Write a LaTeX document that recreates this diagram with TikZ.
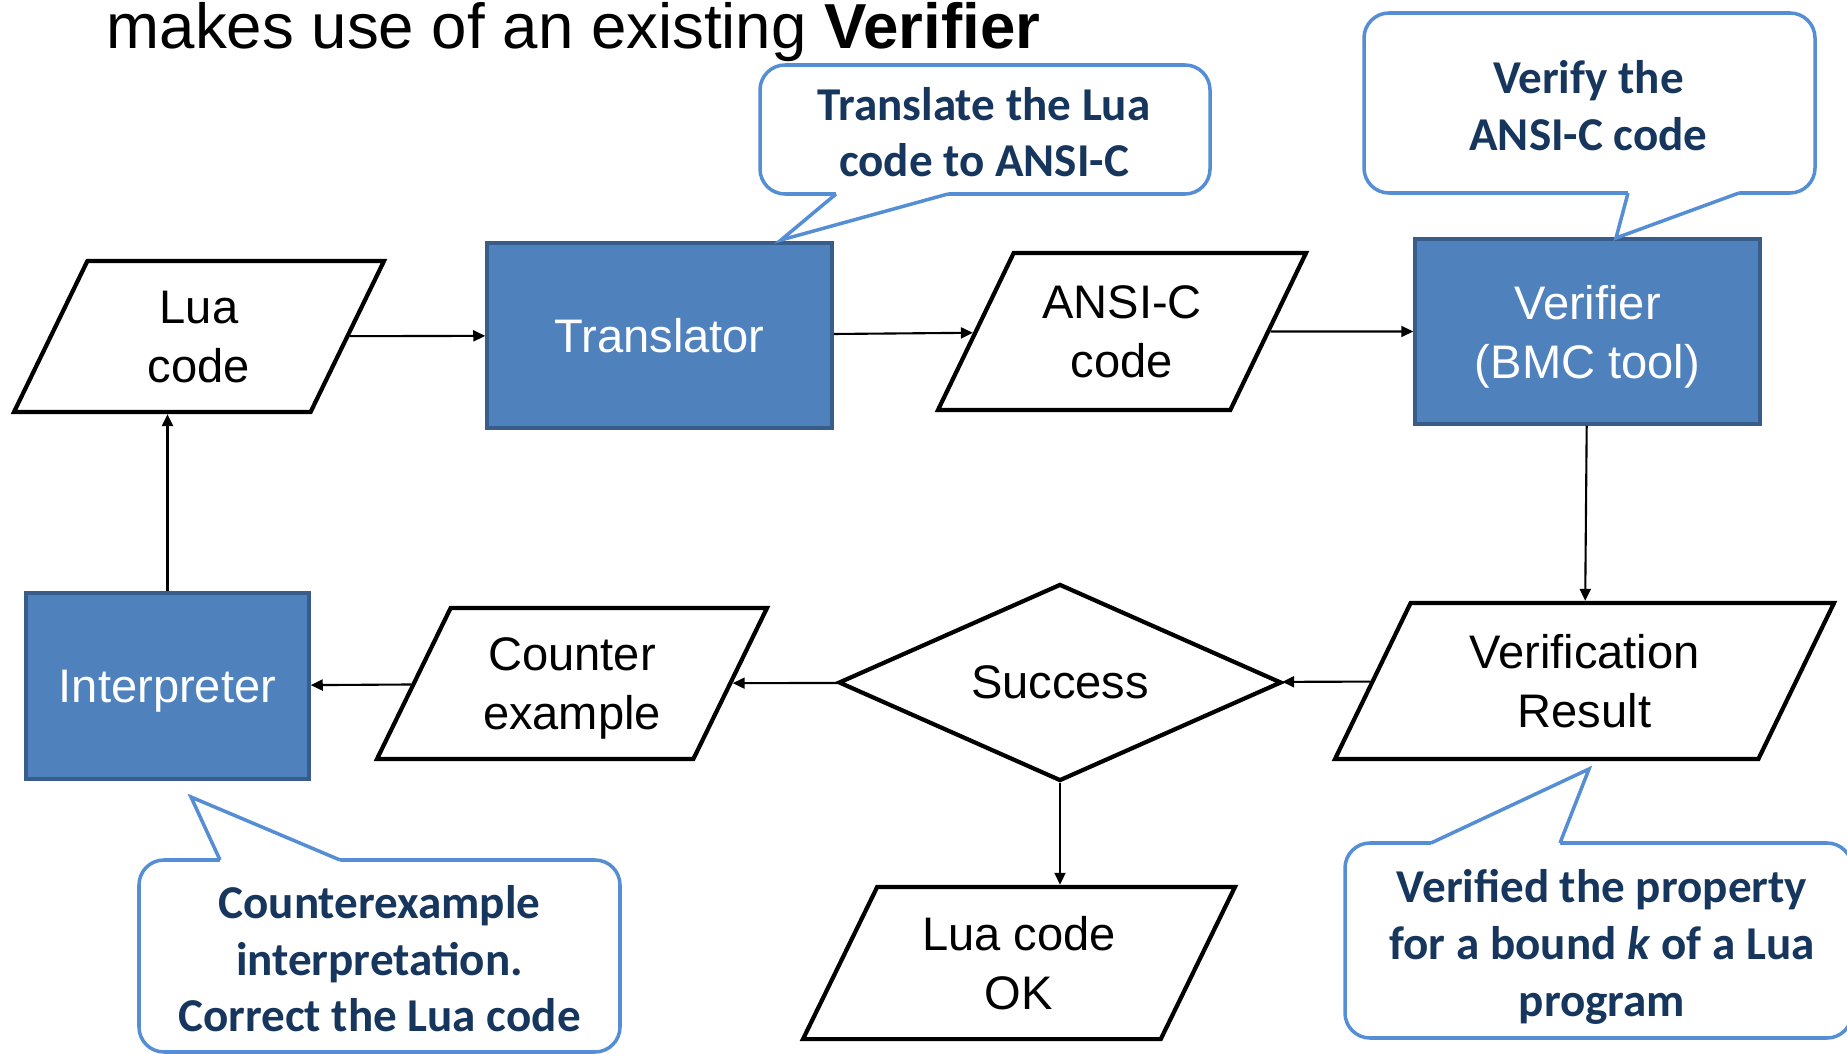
\documentclass[tikz,border=0pt]{standalone}
\usepackage{fontspec}
\setmainfont{Liberation Sans}
\newfontfamily\notefont{Carlito}
\usepackage{xcolor}
\usetikzlibrary{shapes.geometric, arrows.meta}

\definecolor{boxblue}{HTML}{4F81BD}
\definecolor{boxedge}{HTML}{385D8A}
\definecolor{bubbleedge}{HTML}{558ED5}
\definecolor{notetext}{HTML}{17365D}

\begin{document}
\begin{tikzpicture}[
        flow/.style={trapezium, trapezium left angle=64, trapezium right angle=116,
            trapezium stretches body, draw=black, line width=1.2pt, fill=white,
            inner xsep=0pt, inner ysep=8.4pt, text depth=0pt, align=center,
            font=\fontsize{13.4}{16.8}\selectfont},
        tool/.style={rectangle, draw=boxedge, line width=1pt, fill=boxblue, text=white,
            inner sep=0pt, text depth=0pt, align=center, font=\fontsize{13.4}{16.8}\selectfont},
        decision/.style={diamond, shape aspect=2.2, draw=black, line width=1.2pt, inner sep=0pt,
            font=\fontsize{13.4}{16.8}\selectfont},
        link/.style={line width=0.6pt, -{Triangle[length=1.2mm, width=1.1mm]}},
        bubble/.style={draw=bubbleedge, line width=1pt, fill=white},
        note/.style={text=notetext, align=center, inner sep=0pt,
            font=\notefont\bfseries\fontsize{13.4}{16.1}\selectfont}
    ]
        \useasboundingbox (0, 0) rectangle (18.47, 10.53);

        \node[anchor=base west, inner sep=0pt, font=\fontsize{18.1}{21}\selectfont] (title)
            at (1.06, 10.04) {makes use of an existing \textbf{Verifier}};

        \node[flow, minimum width=3.70cm, minimum height=1.51cm] (lua) at (1.99, 7.165) {Lua\\code};
        \node[tool, minimum width=3.45cm, minimum height=1.85cm] (trans) at (6.595, 7.175) {Translator};
        \node[flow, minimum width=3.68cm, minimum height=1.57cm, inner ysep=9pt] (ansi) at (11.22, 7.215) {ANSI-C\\code};
        \node[tool, minimum width=3.45cm, minimum height=1.85cm] (verif) at (15.875, 7.215) {Verifier\\(BMC tool)};
        \node[flow, minimum width=4.99cm, minimum height=1.56cm, inner ysep=8.8pt] (result) at (15.845, 3.72) {Verification\\Result};
        \node[decision, minimum width=4.43cm, minimum height=1.97cm] (success) at (10.60, 3.705) {Success};
        \node[flow, minimum width=3.90cm, minimum height=1.51cm] (counter) at (5.72, 3.695) {Counter\\example};
        \node[tool, minimum width=2.83cm, minimum height=1.86cm] (interp) at (1.675, 3.67) {Interpreter};
        \node[flow, minimum width=4.32cm, minimum height=1.52cm] (luaok) at (10.19, 0.90) {Lua code\\OK};

        \draw[link] (lua) -- (trans);
        \draw[link] (trans) -- (ansi);
        \draw[link] (ansi) -- (verif);
        \draw[link] (verif) -- (result);
        \draw[link] (result) -- (success);
        \draw[link] (success) -- (counter);
        \draw[link] (counter) -- (interp);
        \draw[link] (success.south) -- (success.south |- luaok.north);
        \draw[link] (interp.north) -- (interp.north |- lua.south);

        \draw[bubble, rounded corners=0.25cm] (7.60, 8.59) rectangle (12.10, 9.88);
        \fill[white] (8.36, 8.62) -- (8.36, 8.59) -- (7.81, 8.13) -- (9.48, 8.59) -- (9.48, 8.62) -- cycle;
        \draw[bubble, fill=none] (8.36, 8.59) -- (7.81, 8.13) -- (9.48, 8.59);
        \node[note] (translate) at (9.84, 9.21) {Translate the Lua\\code to ANSI-C};

        \draw[bubble, rounded corners=0.25cm] (13.64, 8.60) rectangle (18.15, 10.40);
        \fill[white] (16.28, 8.63) -- (16.28, 8.60) -- (16.16, 8.15) -- (17.39, 8.60) -- (17.39, 8.63) -- cycle;
        \draw[bubble, fill=none] (16.28, 8.60) -- (16.16, 8.15) -- (17.39, 8.60);
        \node[note] (verify) at (15.885, 9.475) {Verify the\\ANSI-C code};

        \draw[bubble, rounded corners=0.25cm] (1.39, 0.01) rectangle (6.20, 1.93);
        \fill[white] (2.20, 1.90) -- (2.20, 1.93) -- (1.91, 2.56) -- (3.40, 1.93) -- (3.40, 1.90) -- cycle;
        \draw[bubble, fill=none] (2.20, 1.93) -- (1.91, 2.56) -- (3.40, 1.93);
        \node[note] (explain) at (3.795, 0.94) {Counterexample\\interpretation.\\Correct the Lua code};

        \draw[bubble, rounded corners=0.25cm] (13.45, 0.15) rectangle (18.52, 2.10);
        \fill[white] (14.31, 2.07) -- (14.31, 2.10) -- (15.89, 2.84) -- (15.60, 2.10) -- (15.60, 2.07) -- cycle;
        \draw[bubble, fill=none] (14.31, 2.10) -- (15.89, 2.84) -- (15.60, 2.10);
        \node[note] (bound) at (16.02, 1.06) {Verified the property\\for a bound \textit{k} of a Lua\\program};
    \end{tikzpicture}
\end{document}
